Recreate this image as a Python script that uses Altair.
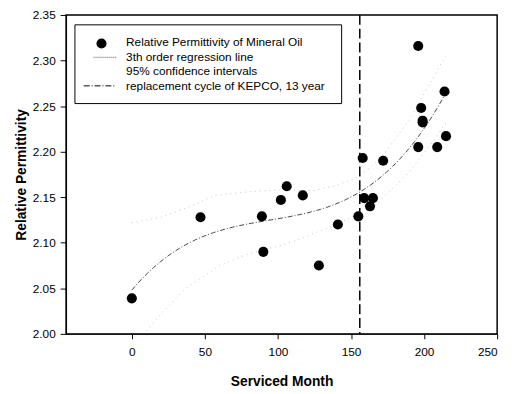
import altair as alt
import pandas as pd

months = [0, 47, 89, 90, 102, 106, 117, 128, 141, 155, 158, 159, 163, 165, 172,
          196, 196, 198, 199, 199, 209, 214, 215]
permittivity = [2.039, 2.128, 2.129, 2.090, 2.147, 2.162, 2.152, 2.075, 2.120, 2.129,
                2.193, 2.149, 2.140, 2.149, 2.190, 2.316, 2.205, 2.248, 2.234, 2.232,
                2.205, 2.266, 2.217]

# 95% confidence interval curves
ci_upper_x = [0, 20, 40, 57, 80, 100, 124, 140, 155, 170, 190, 211, 215]
ci_upper_y = [2.122, 2.128, 2.140, 2.152, 2.156, 2.158, 2.157, 2.163, 2.172, 2.192, 2.235, 2.295, 2.305]
ci_lower_x = [10, 20, 37, 60, 80, 102, 113, 140, 166, 190, 206, 215]
ci_lower_y = [2.003, 2.022, 2.050, 2.075, 2.088, 2.097, 2.103, 2.120, 2.140, 2.178, 2.211, 2.232]

replacement_month = [156]

x_ticks = [0, 50, 100, 150, 200, 250]
y_ticks = [2.00, 2.05, 2.10, 2.15, 2.20, 2.25, 2.30, 2.35]

legend_labels = ["Relative Permittivity of Mineral Oil", "3th order regression line",
                 "95% confidence intervals", "replacement cycle of KEPCO, 13 year"]

df = pd.DataFrame({"month": months, "perm": permittivity})
ci = pd.concat([
    pd.DataFrame({"month": ci_upper_x, "perm": ci_upper_y, "band": "upper"}),
    pd.DataFrame({"month": ci_lower_x, "perm": ci_lower_y, "band": "lower"}),
])
vline = pd.DataFrame({"month": replacement_month})
one = pd.DataFrame({"k": [0]})

FONT = "Liberation Sans"

xscale = alt.Scale(domain=[-45, 250], nice=False, zero=False)
yscale = alt.Scale(domain=[2.0, 2.35], nice=False, zero=False)

xenc = alt.X("month:Q", scale=xscale,
             axis=alt.Axis(values=x_ticks, title="Serviced Month", grid=False,
                           tickSize=5, labelPadding=8, titlePadding=17,
                           labelFontSize=12, titleFontSize=14, titleFontWeight="bold",
                           domainColor="black", tickColor="black", labelColor="black",
                           titleColor="black", labelFont=FONT, titleFont=FONT))
yenc = alt.Y("perm:Q", scale=yscale,
             axis=alt.Axis(values=y_ticks, format=".2f", title="Relative Permittivity",
                           grid=False, tickSize=6, labelPadding=5, titlePadding=4,
                           labelFontSize=12, titleFontSize=14, titleFontWeight="bold",
                           domainColor="black", tickColor="black", labelColor="black",
                           titleColor="black", labelFont=FONT, titleFont=FONT))

ci_lines = alt.Chart(ci).mark_line(
    color="#c4c4c4", strokeWidth=1, strokeDash=[1, 4], clip=True
).encode(x=xenc, y=yenc, detail="band:N")

reg = alt.Chart(df).transform_regression(
    "month", "perm", method="poly", order=3, extent=[0, 215]
).mark_line(color="#444444", strokeWidth=1, strokeDash=[5, 2, 1, 2]).encode(
    x=alt.X("month:Q", scale=xscale), y=alt.Y("perm:Q", scale=yscale)
)

points = alt.Chart(df).mark_point(filled=True, shape="circle", size=105,
                                  color="black", opacity=1).encode(
    x=alt.X("month:Q", scale=xscale), y=alt.Y("perm:Q", scale=yscale)
)

vrule = alt.Chart(vline).mark_rule(color="black", strokeWidth=1.5,
                                   strokeDash=[10, 4]).encode(
    x=alt.X("month:Q", scale=xscale)
)

# Legend (drawn inside the plot area, pixel positions relative to the plot)
leg_box = alt.Chart(one).mark_rect(fill="white", stroke="black", strokeWidth=1).encode(
    x=alt.value(9), x2=alt.value(280), y=alt.value(10), y2=alt.value(90))
leg_pt = alt.Chart(one).mark_point(filled=True, shape="circle", size=105,
                                   color="black", opacity=1).encode(
    x=alt.value(36), y=alt.value(29))
leg_dot = alt.Chart(one).mark_rule(color="#555555", strokeWidth=1,
                                   strokeDash=[1, 1]).encode(
    x=alt.value(28), x2=alt.value(51), y=alt.value(43))
leg_dd = alt.Chart(one).mark_rule(color="black", strokeWidth=1,
                                  strokeDash=[6, 2, 1, 2]).encode(
    x=alt.value(18), x2=alt.value(50), y=alt.value(72))
leg_texts = [
    alt.Chart(one).mark_text(align="left", baseline="middle", fontSize=12,
                             font=FONT, color="black", text=lbl).encode(
        x=alt.value(61), y=alt.value(yy))
    for lbl, yy in zip(legend_labels, [28, 43, 57, 72])
]

chart = alt.layer(ci_lines, reg, vrule, points, leg_box, leg_pt, leg_dot, leg_dd,
                  *leg_texts).properties(
    width=438, height=324,
    autosize=alt.AutoSizeParams(type="none"),
    padding={"left": 59, "top": 4, "right": 9, "bottom": 58},
    background="white",
).configure_view(stroke="black", strokeWidth=1.5)

chart.save("out.html", embed_options={"renderer": "svg", "actions": False})
